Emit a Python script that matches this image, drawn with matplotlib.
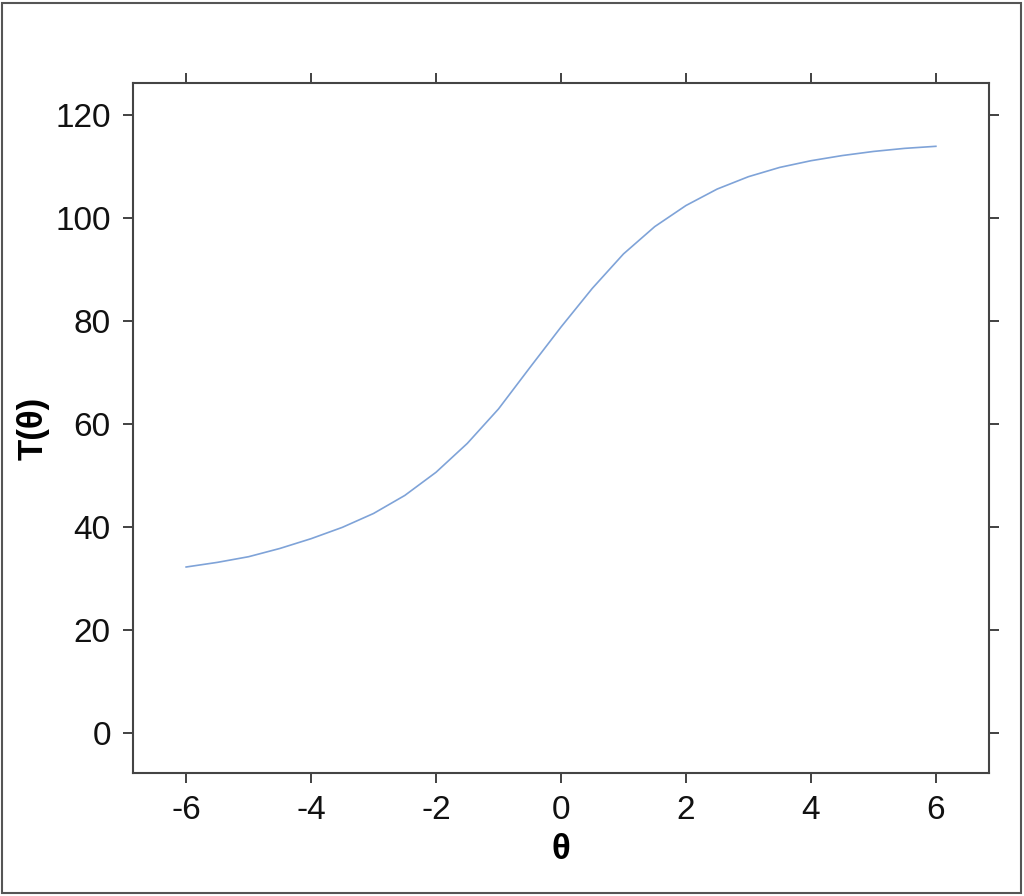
import numpy as np
import matplotlib
matplotlib.use('Agg')
import matplotlib.pyplot as plt
from matplotlib.patches import Rectangle

plt.rcParams['font.family'] = ['Liberation Sans', 'DejaVu Sans']
plt.rcParams['axes.unicode_minus'] = False

# values
theta = [-6, -5.5, -5, -4.5, -4, -3.5, -3, -2.5, -2, -1.5, -1, -0.5,
         0, 0.5, 1, 1.5, 2, 2.5, 3, 3.5, 4, 4.5, 5, 5.5, 6]
t_theta = [32.2, 33.1, 34.2, 35.8, 37.7, 39.9, 42.6, 46.1, 50.6, 56.2, 62.9, 70.9,
           78.8, 86.3, 93.0, 98.3, 102.4, 105.6, 108.0, 109.8, 111.1, 112.1, 112.9, 113.5, 113.9]
xticks = [-6, -4, -2, 0, 2, 4, 6]
yticks = [0, 20, 40, 60, 80, 100, 120]

fig = plt.figure(figsize=(10.24, 8.96), dpi=100)
ax = fig.add_axes([0.1299, 0.1373, 0.8359, 0.7701])

ax.plot(theta, t_theta, color='#7fa3d8', linewidth=1.2)

ax.set_xlim(-6.85, 6.85)
ax.set_ylim(-7.8, 126.2)
ax.set_xticks(xticks)
ax.set_yticks(yticks)
ax.tick_params(direction='out', length=7, width=1.3, colors='#333333',
               labelsize=24, labelcolor='#111111', pad=9,
               top=True, right=True, labeltop=False, labelright=False)
for s in ax.spines.values():
    s.set_color('#444444')
    s.set_linewidth(1.5)

ax.set_xlabel('θ', fontsize=25, fontweight='bold', labelpad=5)
ax.set_ylabel('T(θ)', fontsize=25, fontweight='bold', labelpad=4)

# outer frame around the figure
fig.patches.append(Rectangle((0.002, 0.003), 0.995, 0.994, transform=fig.transFigure,
                             fill=False, edgecolor='#555555', linewidth=1.5))

fig.savefig('out.png', dpi=100)
